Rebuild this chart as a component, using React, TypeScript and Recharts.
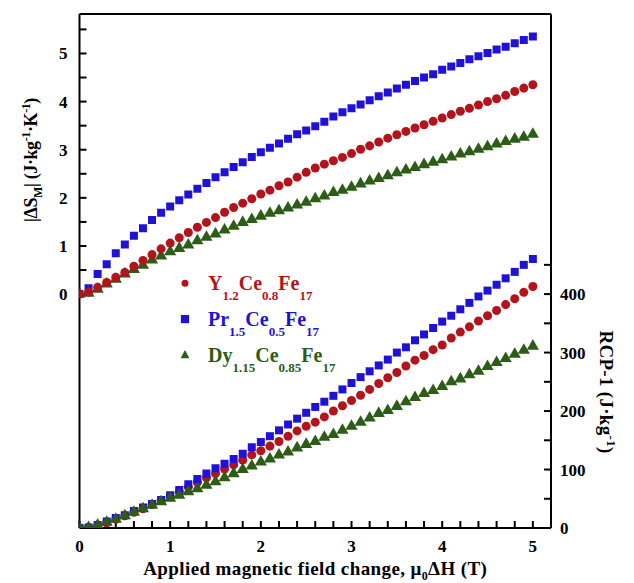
import React from "react";
import { ScatterChart, Scatter, XAxis, YAxis, ZAxis } from "recharts";

const SERIF = "'Liberation Serif', 'Times New Roman', serif";
const INK = "#000";

// applied field change (T)
const field = [
  0, 0.1, 0.2, 0.3, 0.4, 0.5, 0.6, 0.7, 0.8, 0.9, 1, 1.1, 1.2, 1.3, 1.4, 1.5, 1.6, 1.7, 1.8, 1.9, 2,
  2.1, 2.2, 2.3, 2.4, 2.5, 2.6, 2.7, 2.8, 2.9, 3, 3.1, 3.2, 3.3, 3.4, 3.5, 3.6, 3.7, 3.8, 3.9, 4,
  4.1, 4.2, 4.3, 4.4, 4.5, 4.6, 4.7, 4.8, 4.9, 5,
];

// |ΔS_M| (J/kg/K)
const dsY = [
  0, 0.04, 0.14, 0.24, 0.35, 0.45, 0.58, 0.7, 0.82, 0.94, 1.06,
  1.17, 1.28, 1.39, 1.49, 1.59, 1.7, 1.8, 1.89, 1.98, 2.08,
  2.16, 2.25, 2.33, 2.43, 2.53, 2.62, 2.7, 2.77, 2.84, 2.92,
  3.01, 3.08, 3.16, 3.24, 3.31, 3.38, 3.45, 3.52, 3.59, 3.66,
  3.73, 3.8, 3.86, 3.93, 4.0, 4.06, 4.13, 4.21, 4.28, 4.35,
];
const dsPr = [
  0, 0.12, 0.42, 0.62, 0.85, 1.03, 1.21, 1.37, 1.54, 1.69, 1.82,
  1.95, 2.07, 2.19, 2.31, 2.43, 2.53, 2.64, 2.74, 2.85, 2.95,
  3.04, 3.13, 3.23, 3.32, 3.4, 3.49, 3.58, 3.69, 3.78, 3.86,
  3.94, 4.03, 4.11, 4.19, 4.27, 4.35, 4.43, 4.5, 4.57, 4.66,
  4.73, 4.8, 4.88, 4.94, 5.01, 5.08, 5.14, 5.21, 5.28, 5.35,
];
const dsDy = [
  0, 0.02, 0.1, 0.21, 0.31, 0.42, 0.51, 0.6, 0.71, 0.79, 0.88,
  0.95, 1.02, 1.11, 1.18, 1.25, 1.33, 1.41, 1.49, 1.55, 1.62,
  1.68, 1.73, 1.79, 1.85, 1.91, 1.98, 2.04, 2.11, 2.16, 2.22,
  2.29, 2.35, 2.4, 2.46, 2.52, 2.58, 2.63, 2.69, 2.74, 2.79,
  2.85, 2.91, 2.96, 3.01, 3.06, 3.12, 3.17, 3.22, 3.26, 3.32,
];

// RCP-1 (J/kg)
const rcpY = [
  0, 1, 4, 9, 15, 21, 27, 33, 40, 47, 54,
  62, 70, 78, 86, 93, 101, 108, 116, 125, 132,
  140, 148, 157, 166, 174, 181, 190, 200, 209, 218,
  227, 237, 247, 257, 266, 277, 287, 295, 305, 313,
  325, 335, 344, 354, 363, 372, 382, 392, 403, 413,
];
const rcpPr = [
  0, 1, 5, 11, 17, 22, 29, 35, 41, 48, 56,
  65, 75, 84, 93, 102, 110, 118, 127, 138, 147,
  157, 167, 177, 187, 197, 207, 216, 226, 237, 248,
  258, 268, 278, 288, 300, 309, 321, 331, 342, 353,
  363, 374, 385, 396, 406, 416, 427, 438, 450, 460,
];
const rcpDy = [
  0, 1, 5, 10, 15, 21, 27, 33, 39, 45, 51,
  56, 62, 67, 73, 79, 86, 93, 100, 106, 113,
  118, 125, 130, 137, 143, 148, 155, 160, 167, 174,
  181, 188, 196, 201, 208, 216, 223, 230, 235, 242,
  250, 255, 262, 268, 276, 283, 290, 297, 304, 311,
];

const xTicks = [0, 0.2, 0.4, 0.6, 0.8, 1, 1.2, 1.4, 1.6, 1.8, 2, 2.2, 2.4, 2.6, 2.8, 3, 3.2, 3.4, 3.6, 3.8, 4, 4.2, 4.4, 4.6, 4.8, 5];
const dsTicks = [0, 0.5, 1, 1.5, 2, 2.5, 3, 3.5, 4, 4.5, 5, 5.5];
const rcpTicks = [0, 50, 100, 150, 200, 250, 300, 350, 400, 450];

const RED = "#b3141c";
const BLUE = "#1f12d6";
const GREEN = "#2c5c16";

type Marker = "circle" | "square" | "triangle";

const compounds: { id: string; name: string; color: string; marker: Marker; area: number; ds: number[]; rcp: number[] }[] = [
  { id: "Y", name: "Y_{1.2}Ce_{0.8}Fe_{17}", color: RED, marker: "circle", area: 38, ds: dsY, rcp: rcpY },
  { id: "Pr", name: "Pr_{1.5}Ce_{0.5}Fe_{17}", color: BLUE, marker: "square", area: 66, ds: dsPr, rcp: rcpPr },
  { id: "Dy", name: "Dy_{1.15}Ce_{0.85}Fe_{17}", color: GREEN, marker: "triangle", area: 36, ds: dsDy, rcp: rcpDy },
];

const zip = (ys: number[]) => field.map((x, i) => ({ x, y: ys[i] }));

function drawMarker(marker: Marker, cx: number, cy: number, color: string) {
  if (marker === "circle") return <circle cx={cx} cy={cy} r={3.5} fill={color} />;
  if (marker === "square") return <rect x={cx - 4.1} y={cy - 4.1} width={8.2} height={8.2} fill={color} />;
  return (
    <polygon
      points={`${cx},${cy - 4.8} ${cx + 4.4},${cy + 3.4} ${cx - 4.4},${cy + 3.4}`}
      fill={color}
    />
  );
}

// "A_{sub}B^{sup}" -> pieces
function parse(s: string) {
  const out: { t: string; k: string }[] = [];
  const re = /([_^])\{([^}]*)\}/g;
  let last = 0;
  let m: RegExpExecArray | null;
  while ((m = re.exec(s))) {
    if (m.index > last) out.push({ t: s.slice(last, m.index), k: "" });
    out.push({ t: m[2], k: m[1] });
    last = re.lastIndex;
  }
  if (last < s.length) out.push({ t: s.slice(last), k: "" });
  return out;
}

function RichText(props: {
  text: string; x: number; y: number; size: number; small: number;
  sub: number; sup: number; fill?: string; anchor?: string; transform?: string; spacing?: number;
}) {
  const { text, x, y, size, small, sub, sup, fill = INK, anchor = "start", transform, spacing = 0 } = props;
  let cur = 0;
  return (
    <text x={x} y={y} fontSize={size} fontWeight="bold" fontFamily={SERIF} fill={fill}
      textAnchor={anchor as any} transform={transform} letterSpacing={spacing}>
      {parse(text).map((p, i) => {
        const target = p.k === "_" ? sub : p.k === "^" ? -sup : 0;
        const dy = target - cur;
        cur = target;
        return (
          <tspan key={i} dy={dy} fontSize={p.k ? small : size}>{p.t}</tspan>
        );
      })}
    </text>
  );
}

const tickFont = { fontSize: 17, fontWeight: "bold" as const, fontFamily: SERIF, fill: INK };
// inward tick marks come from the axis itself (negative tickSize); tick props give the axis position
const TICK = -7;
const tickLineStyle = { stroke: INK, strokeWidth: 2 };

const BottomTick = (props: any) => {
  const v = props.payload.value;
  if (!Number.isInteger(v)) return <g />;
  return <text x={Number(props.x)} y={Number(props.y) + 24} textAnchor="middle" {...tickFont}>{v}</text>;
};

const LeftTick = (props: any) => {
  const v = props.payload.value;
  if (!Number.isInteger(v)) return <g />;
  return <text x={Number(props.x) - 12} y={Number(props.y) + 6} textAnchor="end" {...tickFont}>{v}</text>;
};

const RightTick = (props: any) => {
  const v = props.payload.value;
  if (v % 100 !== 0) return <g />;
  return <text x={Number(props.x) + 9} y={Number(props.y) + 6} textAnchor="start" {...tickFont}>{v}</text>;
};

// titles and legend, drawn over the chart
function Overlay() {
  return (
    <svg width={634} height={583} style={{ position: "absolute", left: 0, top: 0, pointerEvents: "none" }}>
      <RichText text="Applied magnetic field change, μ_{0}ΔH (T)" x={315.25} y={575}
        size={19} small={12} sub={5} sup={7} anchor="middle" spacing={0.4} />
      <RichText text="|ΔS_{M}| (J·kg^{-1}·K^{-1})" x={36.5} y={160} size={18} small={12} sub={5} sup={7}
        anchor="middle" spacing={-0.4} transform="rotate(-90 36.5 160)" />
      <RichText text="RCP-1 (J·kg^{-1})" x={600} y={392} size={19} small={13} sub={5} sup={7}
        anchor="middle" spacing={0.3} transform="rotate(90 600 392)" />
      {compounds.map((c, i) => {
        const base = 290 + i * 35.8;
        return (
          <g key={c.id}>
            {drawMarker(c.marker, 185, base - 6.7, c.color)}
            <RichText text={c.name} x={208} y={base} size={20} small={13} sub={10} sup={7} fill={c.color} />
          </g>
        );
      })}
    </svg>
  );
}

const upperOrder = ["Pr", "Dy", "Y"];
const lowerOrder = ["Y", "Pr", "Dy"];

export default function App() {
  const byId = (id: string) => compounds.find((c) => c.id === id)!;
  return (
    <div style={{ position: "absolute", left: 0, top: 0, width: 634, height: 583, background: "#fff" }}>
      <ScatterChart width={634} height={583} margin={{ top: 0, right: 23, bottom: 25, left: 19.5 }}>
        <XAxis xAxisId="f" dataKey="x" type="number" domain={[0, 5.2]} allowDataOverflow ticks={xTicks}
          interval={0} tickSize={TICK} tickMargin={-TICK} tickLine={tickLineStyle} tick={BottomTick} height={30}
          axisLine={{ stroke: INK, strokeWidth: 2 }} />
        <XAxis xAxisId="top" orientation="top" dataKey="x" type="number" domain={[0, 5.2]} allowDataOverflow
          ticks={xTicks} interval={0} tickSize={TICK} tickMargin={-TICK} tickLine={tickLineStyle} tick={false}
          height={14} axisLine={{ stroke: INK, strokeWidth: 2 }} />
        <YAxis yAxisId="ds" dataKey="y" type="number" domain={[-4.86, 5.82]} allowDataOverflow ticks={dsTicks}
          interval={0} tickSize={TICK} tickMargin={-TICK} tickLine={tickLineStyle} tick={LeftTick} width={60}
          axisLine={{ stroke: INK, strokeWidth: 2 }} />
        <YAxis yAxisId="rcp" orientation="right" dataKey="y" type="number" domain={[0, 879]} allowDataOverflow
          ticks={rcpTicks} interval={0} tickSize={TICK} tickMargin={-TICK} tickLine={tickLineStyle} tick={RightTick}
          width={60} axisLine={{ stroke: INK, strokeWidth: 2 }} />
        {compounds.map((c) => (
          <ZAxis key={`z-${c.id}`} zAxisId={c.id} range={[c.area, c.area]} />
        ))}
        {lowerOrder.map((id) => {
          const c = byId(id);
          return (
            <Scatter key={`rcp-${id}`} xAxisId="f" yAxisId="rcp" zAxisId={c.id} data={zip(c.rcp)}
              shape={c.marker} fill={c.color} isAnimationActive={false} />
          );
        })}
        {upperOrder.map((id) => {
          const c = byId(id);
          return (
            <Scatter key={`ds-${id}`} name={c.name} xAxisId="top" yAxisId="ds" zAxisId={c.id} data={zip(c.ds)}
              shape={c.marker} fill={c.color} isAnimationActive={false} />
          );
        })}
      </ScatterChart>
      <Overlay />
    </div>
  );
}
